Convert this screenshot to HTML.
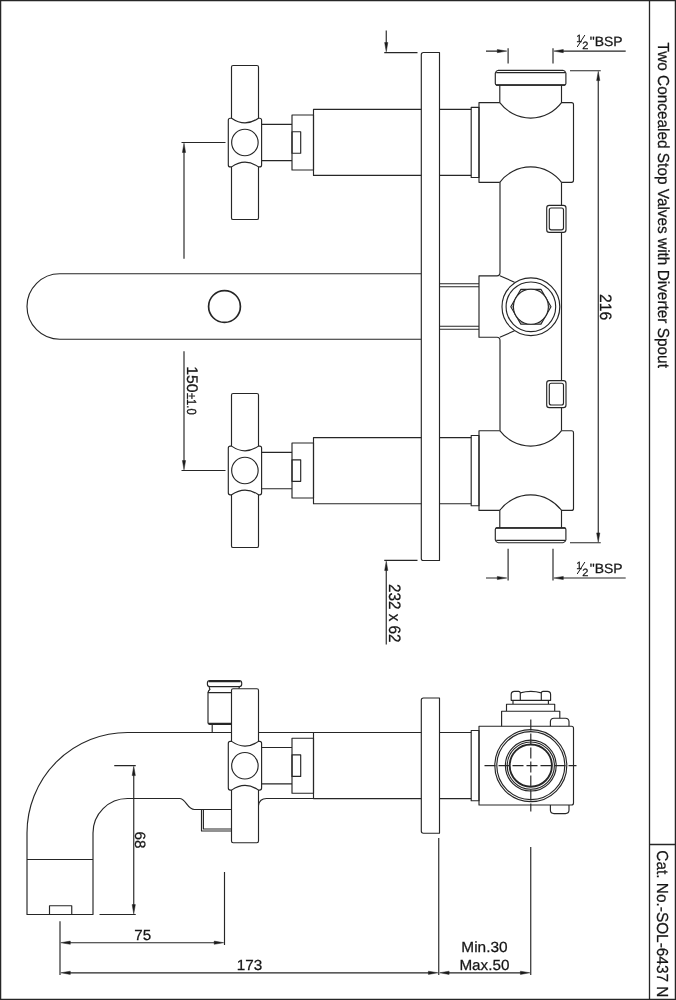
<!DOCTYPE html>
<html><head><meta charset="utf-8">
<style>
html,body{margin:0;padding:0;background:#fff;}
body{width:676px;height:1000px;overflow:hidden;}
svg{display:block;will-change:transform;}
text{font-family:"Liberation Sans",sans-serif;fill:#161616;stroke:#161616;stroke-width:0.25px;font-kerning:normal;text-rendering:geometricPrecision;}
</style></head><body>
<svg width="676" height="1000" viewBox="0 0 676 1000">
<rect x="0" y="0" width="676" height="1000" fill="#fff"/>
<defs>
<!-- handle assembly (top view, upper) : bar, hub, circle, stem, block, body, collar -->
<g id="handle">
  <rect x="231.5" y="65.5" width="27" height="154" rx="1.6" fill="#fff"/>
  <path d="M230.3,118.2 L231.6,118.2 Q245,127.6 258.5,118.2 L259.6,118.2 Q261.6,118.2 261.6,120.2 L261.6,164.9 Q261.6,166.9 259.6,166.9 L258.5,166.9 Q245,157.5 231.6,166.9 L230.3,166.9 Q228.3,166.9 228.3,164.9 L228.3,120.2 Q228.3,118.2 230.3,118.2 Z" fill="#fff"/>
  <circle cx="244.9" cy="142.5" r="13.25"/>
  <path d="M261.6,124.3 H292 M261.6,160.6 H292"/>
  <rect x="292" y="115" width="21.5" height="55"/>
  <rect x="292" y="131.7" width="8.7" height="21.5"/>
  <path d="M421.3,109.3 H313.5 V175.4 H421.3"/>
  <path d="M439.5,109.3 H471.2 M439.5,175.4 H471.2"/>
  <rect x="471.2" y="107.3" width="7.8" height="70.2"/>
</g>
<!-- upper valve (top view) -->
<g id="valve">
  <path d="M499.8,102.6 H479 V182.3 H499.8"/>
  <path d="M561.5,102.6 H571.5 Q573.5,102.6 573.5,104.6 V180.3 Q573.5,182.3 571.5,182.3 H561.5"/>
  <path d="M499.8,85 V102.6 A38.5,38.5 0 0 0 561.5,102.6 V85"/>
  <path d="M499.8,182.3 A38.5,38.5 0 0 1 561.5,182.3"/>
  <path d="M498.3,70.3 H562.9 Q565.2,70.6 565.9,73.2 V83.6 Q565.9,85.1 564.4,85.1 H496.8 Q495.3,85.1 495.3,83.6 V73.2 Q496,70.6 498.3,70.3 Z"/>
  <path d="M496.2,72.6 H565"/>
  <path d="M496,84.9 H565.2" stroke-width="1.5"/>
  <rect x="546.7" y="205.4" width="19.3" height="27" rx="2.6" fill="#fff"/>
  <rect x="549.3" y="208" width="14.2" height="21.8" rx="2"/>
</g>
</defs>
<g fill="none" stroke="#262626" stroke-width="1.15" stroke-linecap="butt" stroke-linejoin="round">

<!-- ============ TOP VIEW ============ -->
<!-- pipe walls -->
<path d="M561.5,182.3 V430.7"/>
<path d="M500,182.3 V272.5 Q500,275.8 497,275.8 H479 V337.2 H497 Q500,337.2 500,340.5 V430.7"/>
<path d="M499.8,275.8 L514.5,282.2 M499.8,337.2 L514.5,330.8"/>
<use href="#valve"/>
<use href="#valve" transform="translate(0,613) scale(1,-1)"/>
<!-- spout -->
<path d="M421.3,273.75 H59.75 A32.75,32.75 0 0 0 59.75,339.25 H421.3"/>
<circle cx="224.5" cy="306.5" r="15.9" stroke-width="1.7"/>
<!-- plate -->
<path d="M439.5,52.5 H423.4 Q421.3,52.5 421.3,54.6 V558.4 Q421.3,560.5 423.4,560.5 H439.5 Z" fill="#fff"/>
<!-- connection lines behind plate -->
<path d="M439.5,283.75 H479 M439.5,286.75 H479 M439.5,326.25 H479 M439.5,329.25 H479"/>
<!-- centre boss circles -->
<circle cx="530.9" cy="306.75" r="28.9" fill="#fff"/>
<circle cx="530.9" cy="306.75" r="24.8"/>
<path d="M551,306.75 L540.95,289.35 H520.85 L510.8,306.75 L520.85,324.15 H540.95 Z"/>
<path d="M549.3,306.75 L540.1,290.85 H521.7 L512.5,306.75 L521.7,322.65 H540.1 Z" stroke-width="0.6"/>
<circle cx="530.9" cy="306.75" r="17.5" fill="#fff"/>
<!-- handles -->
<use href="#handle"/>
<use href="#handle" transform="translate(0,613) scale(1,-1)"/>

<!-- dims: 150 -->
<path d="M181.5,142.5 H225.5 M181.5,470.5 H225.5 M184,150 V258.75 M184,351.25 V463"/>
<path d="M184,143.2 L185.6,152.5 H182.4 Z M184,469.8 L185.6,460.5 H182.4 Z" fill="#1a1a1a" stroke-width="0.5"/>
<!-- dims: plate 232x62 -->
<path d="M384.25,52.6 H417.5 M384.25,560.4 H417.5 M386.25,30.5 V44 M386.25,569 V644.5"/>
<path d="M386.25,51.8 L387.85,42.5 H384.65 Z M386.25,561.2 L387.85,570.5 H384.65 Z" fill="#1a1a1a" stroke-width="0.5"/>
<!-- dims: BSP -->
<path d="M508.1,48.2 V63.6 M553,48.2 V63.6 M486,51.1 H499 M562,51.1 H625.7"/>
<path d="M506.8,51.1 L497.3,52.7 V49.5 Z M553.8,51.1 L563.3,52.7 V49.5 Z" fill="#1a1a1a" stroke-width="0.5"/>
<path d="M508.1,548.75 V580.5 M553,548.75 V580.5 M486,578 H499 M562,578 H625.7"/>
<path d="M506.8,578 L497.3,579.6 V576.4 Z M553.8,578 L563.3,579.6 V576.4 Z" fill="#1a1a1a" stroke-width="0.5"/>
<!-- dims: 216 -->
<path d="M570,70.75 H600.75 M570,542.75 H600.75 M598.25,79 V534"/>
<path d="M598.25,71.3 L599.85,80.6 H596.65 Z M598.25,542.2 L599.85,532.9 H596.65 Z" fill="#1a1a1a" stroke-width="0.5"/>

<!-- ============ SIDE VIEW ============ -->
<!-- spout -->
<path d="M231.5,732.5 H127.5 A100.5,100.5 0 0 0 27,833 V914.5 H93 V833 A34.5,34.5 0 0 1 127.5,798.5 H179.5 C186,798.5 187,809.5 194.5,809.5 H231.5"/>
<path d="M27,859.5 H93"/>
<rect x="49.5" y="905.75" width="22.25" height="8.75"/>
<path d="M258.5,805.5 Q259.5,798.5 266.5,798.5 H313.5"/>
<path d="M258.5,732.5 H313.5"/>
<!-- nozzle under spout -->
<path d="M201.5,809.5 V831 H231.5 M203.4,809.5 V829 H231.5"/>
<!-- diverter knob -->
<path d="M212.2,724.4 V732.5"/>
<path d="M231.5,724.3 H209.5 Q208,724.3 208,722.8 V692.6 H231.5 M208.4,723.2 H231.5"/>
<path d="M208,692.6 Q208.3,690.8 210,689.3 Q209,688 209.3,686.6 M239.6,686.6 Q238.7,687.8 239,688.9"/>
<rect x="207.4" y="680.5" width="34.3" height="6.1" rx="2.4" fill="#fff"/>
<path d="M208.6,681.6 H240.5" stroke-width="1.3"/>
<!-- plate -->
<path d="M439.5,698 H423.4 Q421.3,698 421.3,700.1 V831.1 Q421.3,833.2 423.4,833.2 H439.5 Z" fill="#fff"/>
<!-- handle assembly -->
<use href="#handle" transform="translate(0,623.2)"/>
<!-- valve body side -->
<path d="M501.6,726.2 V711.2 H559.8 V726.2 M506.5,711.2 V704.2 H554.7 V711.2 M513,704.2 V700.3 M548.4,704.2 V700.3"/>
<path d="M511.2,700.3 V694.6 Q511.2,691.4 514.4,691.4 H518.6 Q520,691.6 520.3,692.9 Q530.9,689.9 541.3,692.9 Q541.6,691.6 543,691.4 H547.4 Q550.6,691.4 550.6,694.6 V700.3 Z M520.3,700.3 V692.9 M541.3,700.3 V692.9"/>
<path d="M550.4,726.2 V721.6 Q550.6,718.2 554,718.2 H565.4 Q568.8,718.2 569,721.6 V726.2" fill="#fff"/>
<path d="M479,726.2 H571.5 Q573.5,726.2 573.5,728.2 V803 Q573.5,805 571.5,805 H479 Z"/>
<path d="M550.4,805 V810.3 Q550.6,813.6 554,813.6 H565.4 Q568.8,813.6 569,810.3 V805"/>
<circle cx="530.8" cy="765.6" r="36"/>
<circle cx="530.8" cy="765.6" r="34"/>
<circle cx="530.8" cy="765.6" r="25.4"/>
<circle cx="530.8" cy="765.6" r="23.6"/>
<circle cx="530.8" cy="765.6" r="21.1" stroke-width="1.9"/>
<!-- centre lines -->
<path d="M484.5,765.6 H576.5" stroke-dasharray="11 3 "/>
<path d="M530.8,719.5 V811.5" stroke-dasharray="11 3"/>

<!-- dims: 68 -->
<path d="M114.25,765.6 H135.75 M99.5,914.5 H135.75 M133.75,774 V906"/>
<path d="M133.75,766.3 L135.35,775.6 H132.15 Z M133.75,913.9 L135.35,904.6 H132.15 Z" fill="#1a1a1a" stroke-width="0.5"/>
<!-- dims: 75 / 173 -->
<path d="M60,921.25 V975 M224.5,872 V945 M438.75,838 V975 M530.75,847 V975"/>
<path d="M69,942.7 H215 M69,972.8 H430 M448,972.8 H522"/>
<path d="M60.8,942.7 L70.3,944.3 V941.1 Z M223.7,942.7 L214.2,944.3 V941.1 Z M60.8,972.8 L70.3,974.4 V971.2 Z M437.9,972.8 L428.4,974.4 V971.2 Z M439.6,972.8 L449.1,974.4 V971.2 Z M529.9,972.8 L520.4,974.4 V971.2 Z" fill="#1a1a1a" stroke-width="0.5"/>

<!-- ============ TITLE BLOCK / BORDER ============ -->
<path d="M649.5,0 V1000 M649.5,844.5 H676" stroke-width="1.3"/>
<rect x="0.5" y="0.5" width="675" height="999" stroke-width="1.5"/>
</g>

<!-- ============ TEXT ============ -->
<g id="bsp">
<text transform="translate(589.7,46) scale(1.04,1)" font-size="13.4">"BSP</text>
<text transform="translate(576.2,41.5) scale(1.0,1)" font-size="10.4">1</text>
<text transform="translate(582.2,48.8) scale(1.05,1)" font-size="10.6">2</text>
<path d="M584.9,35 L577.2,47" stroke="#1a1a1a" stroke-width="1" fill="none"/>
</g>
<use href="#bsp" transform="translate(0,527)"/>
<text transform="translate(657.5,42.6) rotate(90) scale(0.961,1)" font-size="16">Two Concealed Stop Valves with Diverter Spout</text>
<text transform="translate(657.4,850.3) rotate(90) scale(0.962,1)" font-size="16">Cat. No.-SOL-6437 N</text>
<text transform="translate(600.4,294) rotate(90) scale(0.95,1)" font-size="16.5">216</text>
<text transform="translate(187.3,366.2) rotate(90) scale(1.027,1)" font-size="15.4">150</text>
<text transform="translate(187.3,392.9) rotate(90) scale(0.847,1)" font-size="13.3">±1.0</text>
<text transform="translate(388.6,584.1) rotate(90) scale(0.923,1)" font-size="16.5">232 x 62</text>
<text transform="translate(134.8,831.5) rotate(90) scale(1.025,1)" font-size="14.9">68</text>
<text transform="translate(134.2,939.8) scale(1.04,1)" font-size="14.6">75</text>
<text transform="translate(236.8,970.1) scale(1.048,1)" font-size="14.6">173</text>
<text transform="translate(461.3,952.2) scale(1.049,1)" font-size="14.7">Min.30</text>
<text transform="translate(459.4,970.4) scale(1.039,1)" font-size="14.7">Max.50</text>
</svg>
</body></html>
